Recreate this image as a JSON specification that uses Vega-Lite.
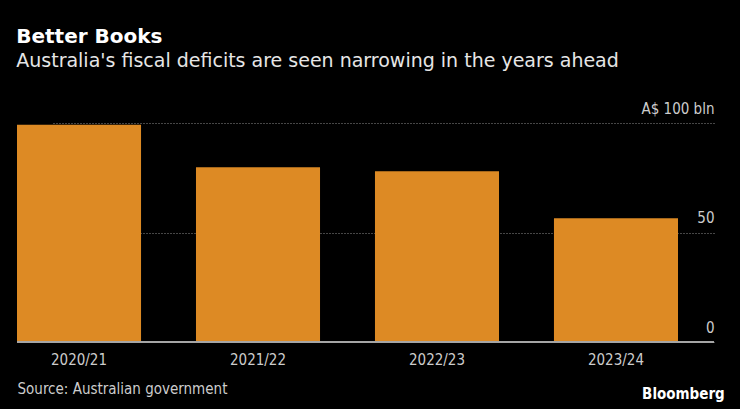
{
  "$schema": "https://vega.github.io/schema/vega-lite/v6.json",
  "description": "Better Books: Australia's fiscal deficits",
  "background": "#000000",
  "padding": {"left": 16, "right": 27, "top": 27, "bottom": 17},
  "title": {
    "text": "Better Books",
    "subtitle": "Australia's fiscal deficits are seen narrowing in the years ahead",
    "anchor": "start",
    "font": "DejaVu Sans",
    "fontSize": 20,
    "fontWeight": "bold",
    "color": "#ffffff",
    "subtitleFont": "DejaVu Sans",
    "subtitleFontSize": 19,
    "subtitleColor": "#e6e6e6",
    "subtitlePadding": 5,
    "offset": 30
  },
  "config": {"view": {"stroke": null}},
  "vconcat": [
    {
      "width": 697,
      "height": 219,
      "title": {
        "text": "Bloomberg",
        "orient": "bottom",
        "anchor": "end",
        "font": "DejaVu Sans Condensed, Liberation Sans Narrow, Roboto Condensed, sans-serif",
        "fontSize": 15,
        "fontWeight": "bold",
        "color": "#ffffff",
        "dx": 10,
        "offset": -9
      },
      "data": {
        "values": [
          {"period": "2020/21", "deficit": 99.2},
          {"period": "2021/22", "deficit": 79.8},
          {"period": "2022/23", "deficit": 78.0},
          {"period": "2023/24", "deficit": 56.5}
        ]
      },
      "layer": [
        {
          "mark": {"type": "bar", "color": "#dd8a24"},
          "encoding": {
            "x": {
              "field": "period",
              "type": "nominal",
              "sort": null,
              "scale": {"range": [0, 661], "paddingInner": 0.307, "paddingOuter": 0},
              "axis": {
                "title": "Source: Australian government",
                "titleAnchor": "start",
                "titleAlign": "left",
                "titleFont": "DejaVu Sans Condensed, Liberation Sans Narrow, Roboto Condensed, sans-serif",
                "titleFontSize": 15,
                "titleFontWeight": "normal",
                "titleColor": "#cccccc",
                "titlePadding": 14,
                "labelAngle": 0,
                "labelFont": "DejaVu Sans Condensed, Liberation Sans Narrow, Roboto Condensed, sans-serif",
                "labelFontSize": 15,
                "labelColor": "#cccccc",
                "labelPadding": 10,
                "domain": false,
                "ticks": false
              }
            },
            "y": {
              "field": "deficit",
              "type": "quantitative",
              "scale": {"domain": [0, 100], "nice": false},
              "axis": {
                "orient": "right",
                "title": null,
                "values": [0, 50, 100],
                "labelExpr": "datum.value == 100 ? 'A$ 100 bln' : datum.label",
                "domain": false,
                "ticks": false,
                "tickSize": 0,
                "labelAlign": "right",
                "labelPadding": 0,
                "labelBaseline": "alphabetic",
                "labelOffset": -10,
                "labelFont": "DejaVu Sans Condensed, Liberation Sans Narrow, Roboto Condensed, sans-serif",
                "labelFontSize": 15,
                "labelColor": "#cccccc",
                "grid": true,
                "gridDash": [1, 2],
                "gridColor": "#8c8c8c"
              }
            }
          }
        },
        {
          "mark": {"type": "rule", "color": "#a6a6a6", "strokeWidth": 1.5},
          "encoding": {"y": {"datum": 0}}
        }
      ]
    }
  ]
}
